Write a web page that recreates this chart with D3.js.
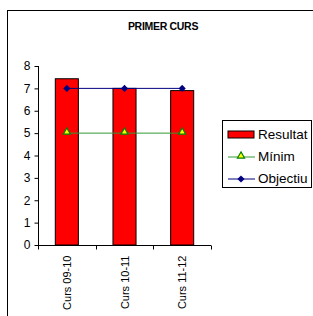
<!DOCTYPE html>
<html>
<head>
<meta charset="utf-8">
<script src="https://cdn.jsdelivr.net/npm/d3@7"></script>
<style>
  body { margin: 0; background: #fff; }
  svg { display: block; font-family: "Liberation Sans", Arial, sans-serif; }
</style>
</head>
<body>
<svg id="chart" width="313" height="316"></svg>
<script>
(function(){
const width = 313;
const height = 316;

// --- Data ---
const categories = ["Curs 09-10", "Curs 10-11", "Curs 11-12"];
const resultat = [7.43, 7.0, 6.9];
const minim = [5, 5, 5];
const objectiu = [7, 7, 7];
const yTicks = [0, 1, 2, 3, 4, 5, 6, 7, 8];

const svg = d3.select("#chart");

// outer frame (runs off the right and bottom edges)
svg.append("rect")
  .attr("x", 7.5).attr("y", 10.5)
  .attr("width", 320).attr("height", 320)
  .attr("fill", "#fff").attr("stroke", "#000");

svg.append("text")
  .attr("x", 163).attr("y", 30)
  .attr("text-anchor", "middle")
  .attr("font-size", 10.5).attr("font-weight", "bold")
  .attr("letter-spacing", -0.3)
  .text("PRIMER CURS");

// --- Scales ---
const x = d3.scaleBand().domain(categories).range([38, 211]).paddingInner(0.6).paddingOuter(0.3);
const xc = d3.scaleBand().domain(categories).range([38, 211]);
const y = d3.scaleLinear().domain([0, 8]).range([245, 66]);

// --- Bars ---
svg.append("g")
  .selectAll("rect")
  .data(resultat)
  .enter()
  .append("rect")
  .attr("x", (d, i) => x(categories[i]))
  .attr("y", d => y(d))
  .attr("width", x.bandwidth())
  .attr("height", d => y(0) - y(d))
  .attr("fill", "#ff0000")
  .attr("stroke", "#000")
  .attr("stroke-width", 1);

// --- Axes ---
const yAxis = svg.append("g")
  .attr("transform", "translate(38.5,0)")
  .call(d3.axisLeft(y).tickValues(yTicks).tickSize(4).tickPadding(4));
yAxis.selectAll("text").attr("font-size", 12).attr("font-family", "Liberation Sans, Arial, sans-serif").attr("fill", "#000");
yAxis.select(".domain").attr("d", `M0,${y(8)}V${y(0)}`);

const xAxis = svg.append("g")
  .attr("transform", `translate(0,${y(0) + 0.5})`);
xAxis.append("line").attr("x1", 38).attr("x2", 211).attr("stroke", "#000");
xAxis.selectAll(".tk")
  .data([38, 38 + xc.bandwidth(), 38 + 2 * xc.bandwidth(), 211])
  .enter()
  .append("line")
  .attr("x1", d => Math.round(d) + 0.5).attr("x2", d => Math.round(d) + 0.5)
  .attr("y1", 0).attr("y2", 4)
  .attr("stroke", "#000");
xAxis.selectAll(".lbl")
  .data(categories)
  .enter()
  .append("text")
  .attr("transform", d => `translate(${xc(d) + xc.bandwidth() / 2 + 4},10) rotate(-90)`)
  .attr("text-anchor", "end")
  .attr("font-size", 11)
  .text(d => d);

// --- Lines ---
const cx = (d, i) => xc(categories[i]) + xc.bandwidth() / 2;
const line = d3.line().x(cx).y(d => y(d));

svg.append("path").datum(minim)
  .attr("d", line).attr("fill", "none").attr("stroke", "#339933").attr("stroke-width", 1);
svg.append("path").datum(objectiu)
  .attr("d", line).attr("fill", "none").attr("stroke", "#000080").attr("stroke-width", 1);

const tri = d3.symbol().type(d3.symbolTriangle).size(22);
const dia = "M0,-3.6L3.6,0L0,3.6L-3.6,0Z";

svg.append("g").selectAll("path").data(minim).enter().append("path")
  .attr("transform", (d, i) => `translate(${cx(d, i)},${y(d) - 1})`)
  .attr("d", tri).attr("fill", "#ffff00").attr("stroke", "#008000").attr("stroke-width", 1.2);
svg.append("g").selectAll("path").data(objectiu).enter().append("path")
  .attr("transform", (d, i) => `translate(${cx(d, i)},${y(d)})`)
  .attr("d", dia).attr("fill", "#000080");

// --- Legend ---
const lg = svg.append("g");
lg.append("rect").attr("x", 222.5).attr("y", 120.5).attr("width", 89).attr("height", 67)
  .attr("fill", "#fff").attr("stroke", "#000");
lg.append("rect").attr("x", 228).attr("y", 131).attr("width", 26).attr("height", 7)
  .attr("fill", "#ff0000").attr("stroke", "#000");
lg.append("line").attr("x1", 228).attr("x2", 255).attr("y1", 157).attr("y2", 157).attr("stroke", "#339933");
lg.append("path").attr("transform", "translate(241,156)").attr("d", tri).attr("fill", "#ffff00").attr("stroke", "#008000").attr("stroke-width", 1.2);
lg.append("line").attr("x1", 228).attr("x2", 255).attr("y1", 179).attr("y2", 179).attr("stroke", "#000080");
lg.append("path").attr("transform", "translate(241,179)").attr("d", dia).attr("fill", "#000080");
lg.selectAll(".lt").data(["Resultat", "Mínim", "Objectiu"]).enter().append("text")
  .attr("x", 258).attr("y", (d, i) => 139 + i * 22)
  .attr("font-size", 13.5)
  .text(d => d);
})();
</script>
</body>
</html>
